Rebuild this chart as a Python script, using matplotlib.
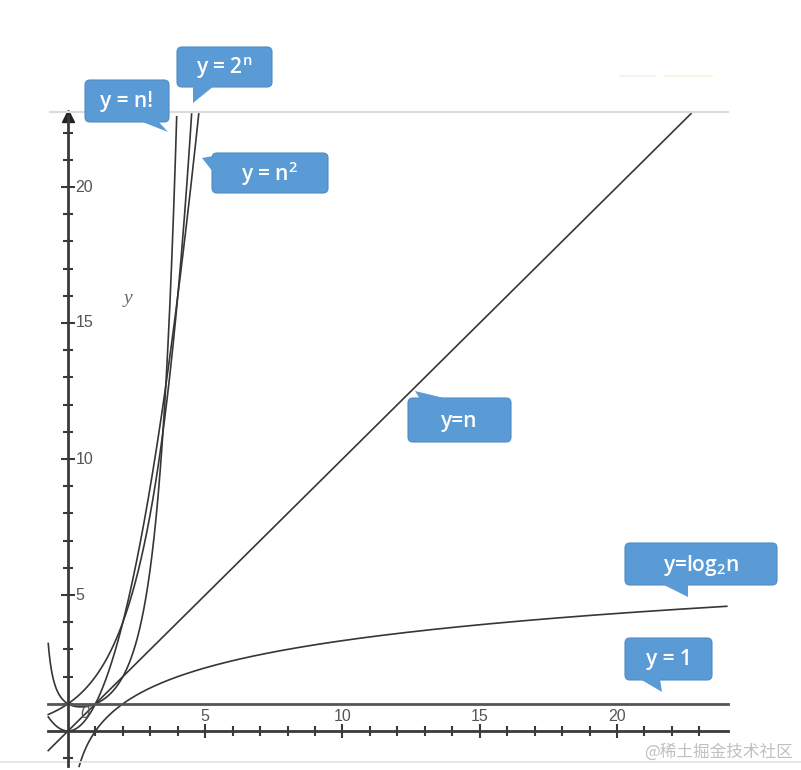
import math
import numpy as np
import matplotlib.pyplot as plt
from matplotlib.patches import FancyBboxPatch, Polygon

plt.rcParams["mathtext.fontset"] = "custom"
plt.rcParams["mathtext.rm"] = "Open Sans"

# curves drawn on the plot
n = np.linspace(-0.72, 24.0, 4000)
curves = {
    "n!": np.array([math.gamma(v + 1) for v in n]),
    "2^n": 2.0 ** n,
    "n^2": n ** 2,
    "n": n,
}
n_log = np.linspace(0.406, 24.0, 2000)
log2n = np.log2(n_log)
const_y = 1.0
y_top = 22.7

x_major = [5, 10, 15, 20]
x_minor = [v for v in range(1, 24) if v not in x_major]
y_major = [5, 10, 15, 20]
y_minor = [-1] + [v for v in range(1, 23) if v not in y_major]

# callout boxes (x0, y0, x1, y1 in pixels), pointer tip, pointer base, text
callouts = [
    ("y = n!", (85, 80, 169, 122), (168, 132), [(140, 121), (158, 121)]),
    (r"y = 2$^\mathregular{n}$", (177, 47, 272, 87), (193, 103), [(193, 86), (214, 86)]),
    (r"y = n$^\mathregular{2}$", (212, 153, 328, 193), (202, 158), [(213, 156), (213, 172)]),
    ("y=n", (408, 398, 511, 442), (415, 391), [(420, 399), (448, 399)]),
    (r"y=log$_\mathregular{2}$n", (625, 543, 777, 585), (688, 597), [(662, 584), (688, 584)]),
    ("y = 1", (625, 638, 712, 680), (662, 692), [(640, 679), (660, 679)]),
]

W, H = 801, 770
ox, oy, sx, sy = 68, 731, 27.45, 27.2

fig = plt.figure(figsize=(W / 100, H / 100), dpi=100)
ax = fig.add_axes([0, 0, 1, 1])
ax.set_xlim(-ox / sx, (W - ox) / sx)
ax.set_ylim((oy - H) / sy, oy / sy)

axc = "#3a3a3a"
for s in ["top", "right"]:
    ax.spines[s].set_visible(False)
ax.spines["left"].set_position(("data", 0))
ax.spines["bottom"].set_position(("data", 0))
ax.spines["left"].set_bounds(-1.3, 22.6)
ax.spines["bottom"].set_bounds(-0.72, 24.05)
for s in ["left", "bottom"]:
    ax.spines[s].set_linewidth(2)
    ax.spines[s].set_color(axc)
ax.set_xticks(x_major)
ax.set_xticks(x_minor, minor=True)
ax.set_yticks(y_major)
ax.set_yticks(y_minor, minor=True)
ax.tick_params(which="both", direction="inout", color=axc, width=1.5,
               labelbottom=False, labelleft=False)
ax.tick_params(which="major", length=10)
ax.tick_params(which="minor", length=7)
ax.plot([0], [22.6], marker="^", ms=9, color="#222", clip_on=False)

# tick labels
for v in x_major:
    ax.text(v, 0.55, str(v), ha="center", va="center", fontsize=11.5,
            color="#555", fontfamily="Liberation Sans")
ax.text(0.62, 0.66, "0", ha="center", va="center", fontsize=11.5,
        color="#555", fontfamily="Liberation Sans", style="italic")
for v in y_major:
    ax.text(0.28, v, str(v), ha="left", va="center", fontsize=11.5,
            color="#555", fontfamily="Liberation Sans")
ax.text(2.2, 15.9, "y", fontsize=14, style="italic", color="#666",
        fontfamily="Liberation Serif", ha="center", va="center")

# curves
lc = "#363636"
for key, vals in curves.items():
    m = vals <= y_top
    ax.plot(n[m], vals[m], color=lc, lw=1.2)
ax.plot(n_log, log2n, color=lc, lw=1.2)
ax.plot([-0.72, 24.05], [const_y, const_y], color="#555", lw=2)

# faint frame lines from the screenshot
ax.plot([-0.65, 24.05], [22.76, 22.76], color="#dcdcdc", lw=1.5)
ax.axhline((oy - 762) / sy, color="#e2e2e2", lw=1.2)

# overlay for callouts
ov = fig.add_axes([0, 0, 1, 1], zorder=5)
ov.set_xlim(0, W)
ov.set_ylim(H, 0)
ov.axis("off")
ov.patch.set_alpha(0)
blue = "#5b9bd5"
for text, (x0, y0, x1, y1), tip, base in callouts:
    ov.add_patch(FancyBboxPatch((x0 + 5, y0 + 5), x1 - x0 - 10, y1 - y0 - 10,
                                boxstyle="round,pad=5", fc=blue, ec="#4f8cc4",
                                lw=0.8))
    ov.add_patch(Polygon([base[0], tip, base[1]], closed=True, fc=blue,
                         ec="none"))
    ov.text((x0 + x1) / 2, (y0 + y1) / 2 + 1, text, color="white",
            fontsize=15, ha="center", va="center", fontweight="semibold",
            fontfamily=["Open Sans", "DejaVu Sans"])

ov.plot([620, 655], [76, 76], color="#f0f0ec", lw=1.2)
ov.plot([665, 712], [76, 76], color="#f4f4d8", lw=1.2)
ov.text(793, 752, "@稀土掘金技术社区", ha="right", va="center", fontsize=12,
        color="#c0c0c0", fontfamily=["Noto Sans CJK SC", "DejaVu Sans"])

fig.savefig("out.png", dpi=100)
